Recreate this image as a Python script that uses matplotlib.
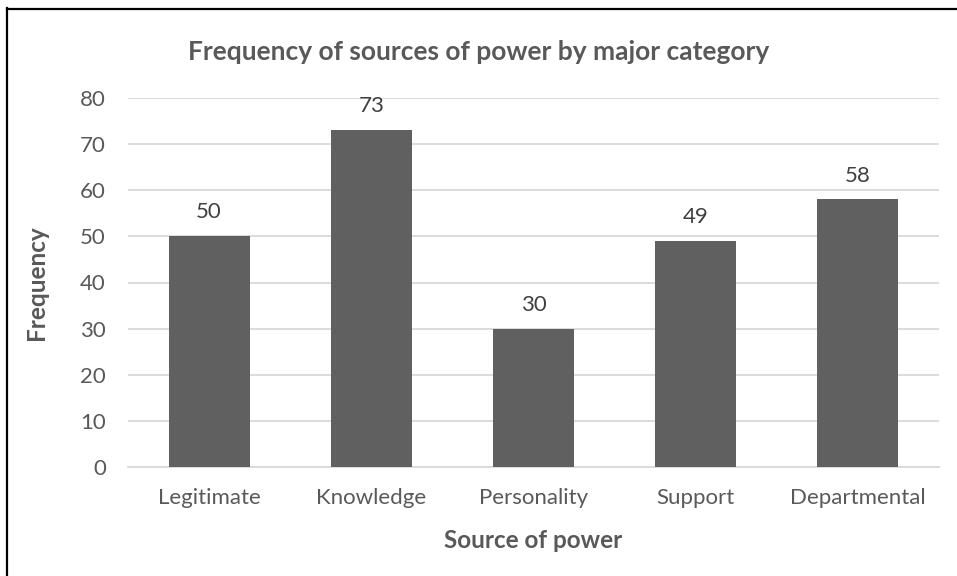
import matplotlib
matplotlib.use('Agg')

import matplotlib.pyplot as plt
import numpy as np
from matplotlib.lines import Line2D

sources = ['Legitimate', 'Knowledge', 'Personality', 'Support', 'Departmental']
frequency = [50, 73, 30, 49, 58]

plt.rcParams['font.family'] = ['Lato', 'DejaVu Sans']
text_color = '#595959'

fig = plt.figure(figsize=(9.57, 5.76), dpi=100)
ax = fig.add_axes([128 / 957, 1 - 467 / 576, (939 - 128) / 957, (467 - 98) / 576])

x = np.arange(len(sources))
bars = ax.bar(x, frequency, width=0.5, color='#606060', zorder=3)

# value labels above each bar
for xi, val in zip(x, frequency):
    ax.annotate(str(val), (xi, val), xytext=(0, 10), textcoords='offset points',
                ha='center', va='bottom', fontsize=16, color='#404040')

ax.set_xlim(-0.5, len(sources) - 0.5)
ax.set_ylim(0, 80)
ax.set_yticks(range(0, 81, 10))
ax.set_xticks(x)
ax.set_xticklabels(sources)
ax.tick_params(axis='both', length=0, labelsize=16, labelcolor=text_color)
ax.tick_params(axis='x', pad=15)
ax.tick_params(axis='y', pad=16)
ax.grid(axis='y', color='#d9d9d9', linewidth=1.3, zorder=0)
for side in ['top', 'right', 'left']:
    ax.spines[side].set_visible(False)
ax.spines['bottom'].set_color('#d9d9d9')
ax.spines['bottom'].set_linewidth(1.3)

ax.set_xlabel('Source of power', fontsize=17.5, fontweight='bold', color=text_color, labelpad=15)
ax.set_ylabel('Frequency', fontsize=17.5, fontweight='bold', color=text_color, labelpad=23)
fig.text(0.5, 1 - 52 / 576, 'Frequency of sources of power by major category',
         ha='center', va='center', fontsize=19, fontweight='bold', color=text_color)

# outline along the top and left edges
fig.add_artist(Line2D([7 / 957, 7 / 957], [0, 1 - 8 / 576], color='black', linewidth=1.6,
                      transform=fig.transFigure))
fig.add_artist(Line2D([7 / 957, 1], [1 - 9 / 576, 1 - 9 / 576], color='black', linewidth=1.6,
                      transform=fig.transFigure))

fig.savefig('out.png', dpi=100)
